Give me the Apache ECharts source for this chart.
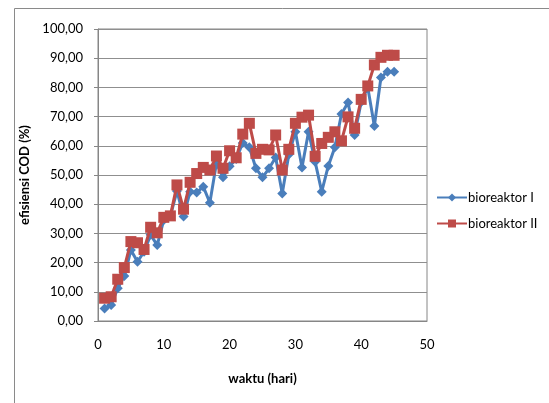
<!DOCTYPE html>
<html>
<head>
<meta charset="utf-8">
<script src="https://cdn.jsdelivr.net/npm/echarts@6/dist/echarts.min.js"></script>
<style>html,body{margin:0;padding:0;background:#fff}#c{width:549px;height:403px}</style>
</head>
<body>
<div id="c"></div>
<script>
const days = [1,2,3,4,5,6,7,8,9,10,11,12,13,14,15,16,17,18,19,20,21,22,23,24,25,26,27,28,29,30,31,32,33,34,35,36,37,38,39,40,41,42,43,44,45];
const bioreaktorI = [4.3,5.5,11.2,15.4,24.3,20.3,23.7,29.5,26,34.6,36,44.5,35.8,44.3,44,46,40.5,54,49.2,53,55.5,61,59.5,52.3,49.2,52.3,56,43.7,57,64.8,52.6,64.8,54.5,44.3,53.1,59.5,70.9,74.8,63.7,75,80,66.8,83.4,85.4,85.4];
const bioreaktorII = [7.8,8.3,14.3,18.3,27.2,26.8,24.5,32.1,30.2,35.5,36,46.6,38.3,47.5,50.5,52.6,51.7,56.5,52.3,58.3,55.9,64,67.7,57.4,58.8,58.6,63.7,51.7,58.8,67.7,69.8,70.5,56.4,60.8,62.9,64.8,61.7,69.9,66,75.9,80.5,87.7,90.3,91,91];
const seriesNames = ['bioreaktor I','bioreaktor II'];
const xTitle = 'waktu (hari)';
const yTitle = 'efisiensi COD (%)';

const font = 'Lato, "Open Sans", sans-serif';
const chart = echarts.init(document.getElementById('c'));
const pair = (ys) => days.map((d,i)=>[d, ys[i]]);
chart.setOption({
  animation:false,
  backgroundColor:'#fff',
  graphic:[{type:'rect',shape:{x:14.5,y:8.5,width:600,height:500},style:{fill:'none',stroke:'#8a8a8a',lineWidth:1},silent:true}],
  grid:{left:98,right:122,top:29,bottom:82,show:true,borderColor:'#868686',borderWidth:1},
  legend:{
    orient:'vertical',left:431,top:186,itemGap:13,itemWidth:30,itemHeight:10,
    textStyle:{fontFamily:font,fontSize:13,color:'#000',padding:[0,0,0,-4]},
    data:seriesNames
  },
  xAxis:{
    type:'value',min:0,max:50,interval:10,
    name:xTitle,nameLocation:'middle',nameGap:51,
    nameTextStyle:{fontFamily:font,fontSize:13,fontWeight:'bold',color:'#000'},
    axisLine:{show:true,lineStyle:{color:'#868686'}},
    axisTick:{show:false},
    splitLine:{show:false},
    axisLabel:{fontFamily:font,fontSize:13,color:'#000',margin:17}
  },
  yAxis:{
    type:'value',min:0,max:100,interval:10,
    name:yTitle,nameLocation:'middle',nameGap:58,
    nameTextStyle:{fontFamily:font,fontSize:13,fontWeight:'bold',color:'#000'},
    axisLine:{show:true,lineStyle:{color:'#868686'}},
    axisTick:{show:true,length:4,lineStyle:{color:'#868686'}},
    splitLine:{show:true,lineStyle:{color:'#8f8f8f',width:1}},
    axisLabel:{fontFamily:font,fontSize:13,color:'#000',margin:15,formatter:v=>v.toFixed(2).replace('.',',')}
  },
  series:[
    {name:seriesNames[0],type:'line',data:pair(bioreaktorI),symbol:'diamond',symbolSize:10,
     lineStyle:{color:'#4A7EBB',width:3},itemStyle:{color:'#4A7EBB'},z:2},
    {name:seriesNames[1],type:'line',data:pair(bioreaktorII),symbol:'rect',symbolSize:11,
     lineStyle:{color:'#BE4B48',width:3},itemStyle:{color:'#BE4B48'},z:3}
  ]
});
</script>
</body>
</html>
